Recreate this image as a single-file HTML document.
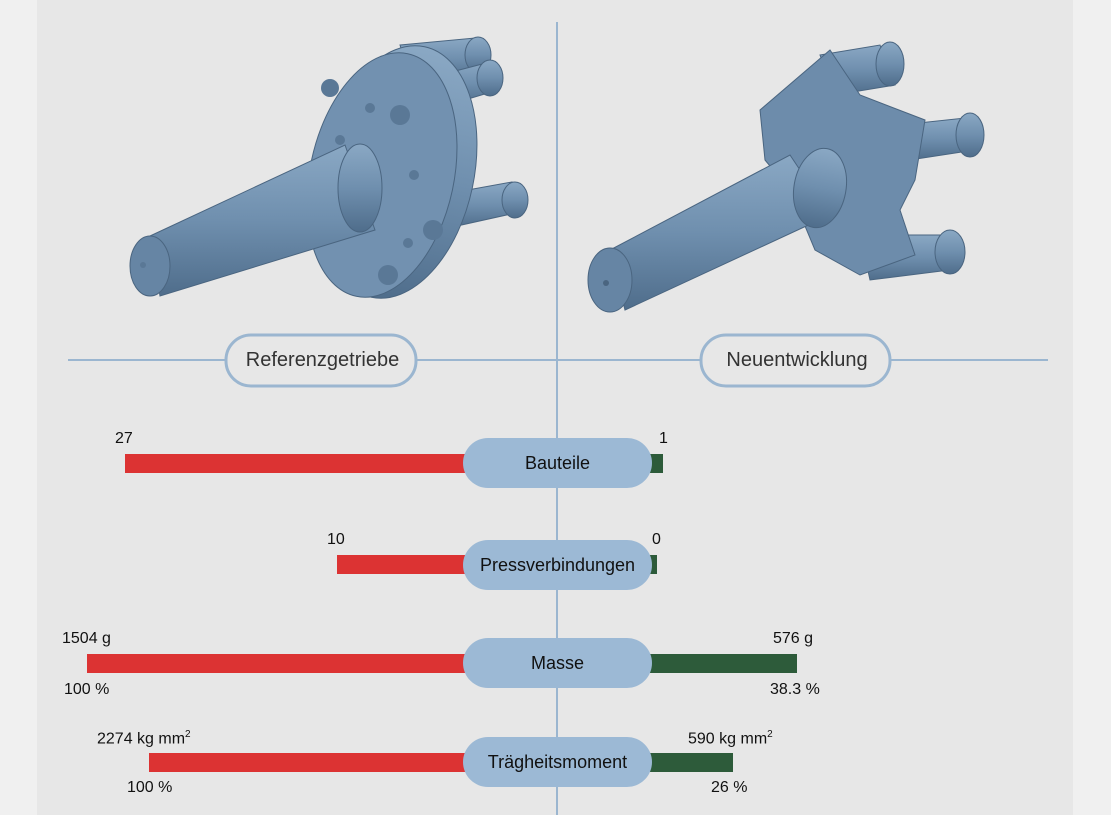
<!DOCTYPE html>
<html><head><meta charset="utf-8"><style>
body{margin:0;width:1111px;height:815px;background:#f0f0f0;overflow:hidden;font-family:"Liberation Sans",sans-serif;}
.t{position:absolute;font-size:16px;color:#111;white-space:nowrap}
</style></head><body>
<div style="position:absolute;left:37px;top:0;width:1036px;height:815px;background:#e7e7e7"></div>
<svg width="1111" height="815" style="position:absolute;left:0;top:0">
<defs>
<linearGradient id="g" x1="0" y1="0" x2="0" y2="1"><stop offset="0" stop-color="#8aa8c4"/><stop offset="0.5" stop-color="#6f8fae"/><stop offset="1" stop-color="#4f6d8b"/></linearGradient>
</defs>
<!-- left part -->
<g fill="url(#g)" stroke="#4a6580" stroke-width="1">
<polygon points="400,45 475,38 485,70 410,80"/><ellipse cx="478" cy="55" rx="13" ry="18"/>
<polygon points="440,75 490,62 498,90 448,105"/><ellipse cx="490" cy="78" rx="13" ry="18"/>
<polygon points="440,195 512,182 520,212 448,228"/><ellipse cx="515" cy="200" rx="13" ry="18"/>
<ellipse cx="398" cy="172" rx="76" ry="128" transform="rotate(12 398 172)"/>
<ellipse cx="382" cy="175" rx="72" ry="124" transform="rotate(12 382 175)" fill="#7291b0"/>
<polygon points="150,236 345,145 375,230 160,296"/>
<ellipse cx="360" cy="188" rx="22" ry="44"/>
<ellipse cx="150" cy="266" rx="20" ry="30" fill="#6685a4"/>
</g>
<g fill="#5a7896"><circle cx="330" cy="88" r="9"/><circle cx="400" cy="115" r="10"/><circle cx="370" cy="108" r="5"/><circle cx="340" cy="140" r="5"/><circle cx="414" cy="175" r="5"/><circle cx="433" cy="230" r="10"/><circle cx="408" cy="243" r="5"/><circle cx="388" cy="275" r="10"/><circle cx="143" cy="265" r="3"/></g>
<!-- right part -->
<g fill="url(#g)" stroke="#4a6580" stroke-width="1">
<polygon points="820,55 880,45 895,85 835,95"/><ellipse cx="890" cy="64" rx="14" ry="22"/>
<polygon points="900,125 965,118 975,150 910,160"/><ellipse cx="970" cy="135" rx="14" ry="22"/>
<polygon points="860,235 945,235 950,270 870,280"/><ellipse cx="950" cy="252" rx="15" ry="22"/>
<polygon points="760,110 830,50 860,95 925,120 915,180 900,210 915,255 860,275 815,250 790,190 765,160" fill="#6d8cab"/>
<polygon points="610,250 790,155 830,215 625,310"/>
<ellipse cx="820" cy="188" rx="26" ry="40" transform="rotate(10 820 188)"/>
<ellipse cx="610" cy="280" rx="22" ry="32" fill="#6685a4"/>
</g>
<circle cx="606" cy="283" r="3" fill="#4a6580"/>
<!-- lines -->
<line x1="557" y1="22" x2="557" y2="815" stroke="#9bb6d0" stroke-width="2"/>
<line x1="68" y1="360" x2="1048" y2="360" stroke="#9bb6d0" stroke-width="2"/>
<rect x="226" y="335" width="190" height="51" rx="25" fill="#e7e7e7" stroke="#9bb6d0" stroke-width="3"/>
<rect x="701" y="335" width="189" height="51" rx="25" fill="#e7e7e7" stroke="#9bb6d0" stroke-width="3"/>
<!-- bars -->
<rect x="125" y="454" width="345" height="19" fill="#dc3333"/>
<rect x="645" y="454" width="18" height="19" fill="#2d5b3a"/>
<rect x="337" y="555" width="133" height="19" fill="#dc3333"/>
<rect x="645" y="555" width="12" height="19" fill="#2d5b3a"/>
<rect x="87" y="654" width="383" height="19" fill="#dc3333"/>
<rect x="645" y="654" width="152" height="19" fill="#2d5b3a"/>
<rect x="149" y="753" width="321" height="19" fill="#dc3333"/>
<rect x="645" y="753" width="88" height="19" fill="#2d5b3a"/>
<g fill="#9cb9d5">
<rect x="463" y="438" width="189" height="50" rx="25"/>
<rect x="463" y="540" width="189" height="50" rx="25"/>
<rect x="463" y="638" width="189" height="50" rx="25"/>
<rect x="463" y="737" width="189" height="50" rx="25"/>
</g>
</svg>
<div class="t" style="left:226px;width:193px;top:349px;text-align:center;font-size:20px;color:#333">Referenzgetriebe</div>
<div class="t" style="left:701px;width:192px;top:349px;text-align:center;font-size:20px;color:#333">Neuentwicklung</div>
<div class="t" style="left:463px;width:189px;top:453px;text-align:center;font-size:18px">Bauteile</div>
<div class="t" style="left:463px;width:189px;top:555px;text-align:center;font-size:18px">Pressverbindungen</div>
<div class="t" style="left:463px;width:189px;top:653px;text-align:center;font-size:18px">Masse</div>
<div class="t" style="left:463px;width:189px;top:752px;text-align:center;font-size:18px">Trägheitsmoment</div>
<div class="t" style="left:115px;top:430px">27</div>
<div class="t" style="left:659px;top:430px">1</div>
<div class="t" style="left:327px;top:531px">10</div>
<div class="t" style="left:652px;top:531px">0</div>
<div class="t" style="left:62px;top:630px">1504 g</div>
<div class="t" style="left:64px;top:681px">100 %</div>
<div class="t" style="left:773px;top:630px">576 g</div>
<div class="t" style="left:770px;top:681px">38.3 %</div>
<div class="t" style="left:97px;top:729px">2274 kg mm<sup style="font-size:10px">2</sup></div>
<div class="t" style="left:127px;top:779px">100 %</div>
<div class="t" style="left:688px;top:729px">590 kg mm<sup style="font-size:10px">2</sup></div>
<div class="t" style="left:711px;top:779px">26 %</div>
</body></html>
